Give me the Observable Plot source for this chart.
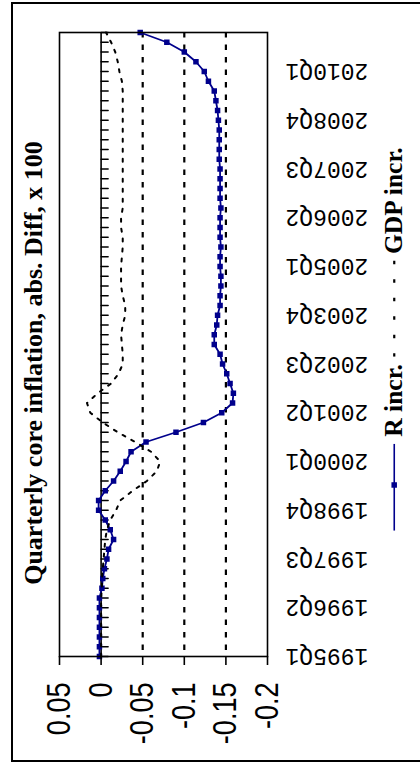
<!DOCTYPE html>
<html>
<head>
<meta charset="utf-8">
<script src="https://cdn.jsdelivr.net/npm/d3@7"></script>
<script src="https://cdn.jsdelivr.net/npm/@observablehq/plot@0.6"></script>
<style>
html,body{margin:0;padding:0;background:#fff;}
#wrap{position:relative;width:420px;height:763px;overflow:hidden;background:#fff;color:#000;}
#border{position:absolute;left:11.3px;top:2.3px;width:420px;height:759.5px;box-sizing:border-box;border:2px solid #000;}
#chart{position:absolute;left:0;top:0;}
#title{position:absolute;left:34px;top:363px;transform:translate(-50%,-50%) rotate(-90deg);white-space:nowrap;font:bold 26px/1 "Liberation Serif","Times New Roman",serif;}
#legend{position:absolute;left:394px;top:338.5px;transform:translate(-50%,-50%) rotate(-90deg);display:flex;align-items:center;white-space:nowrap;font:bold 25.5px/1 "Liberation Serif","Times New Roman",serif;}
#legend svg{display:block;}
</style>
</head>
<body>
<div id="wrap">
  <div id="border"></div>
  <div id="chart"></div>
  <div id="title"></div>
  <div id="legend"></div>
</div>
<script>
const titleText = "Quarterly core inflation, abs. Diff, x 100";
const seriesNames = ["R incr.", "GDP incr."];

const quarters = [
  "1995Q1","1995Q2","1995Q3","1995Q4",
  "1996Q1","1996Q2","1996Q3","1996Q4",
  "1997Q1","1997Q2","1997Q3","1997Q4",
  "1998Q1","1998Q2","1998Q3","1998Q4",
  "1999Q1","1999Q2","1999Q3","1999Q4",
  "2000Q1","2000Q2","2000Q3","2000Q4",
  "2001Q1","2001Q2","2001Q3","2001Q4",
  "2002Q1","2002Q2","2002Q3","2002Q4",
  "2003Q1","2003Q2","2003Q3","2003Q4",
  "2004Q1","2004Q2","2004Q3","2004Q4",
  "2005Q1","2005Q2","2005Q3","2005Q4",
  "2006Q1","2006Q2","2006Q3","2006Q4",
  "2007Q1","2007Q2","2007Q3","2007Q4",
  "2008Q1","2008Q2","2008Q3","2008Q4",
  "2009Q1","2009Q2","2009Q3","2009Q4",
  "2010Q1","2010Q2","2010Q3","2010Q4",
  "2011Q1"
];

const labelQuarters = ["1995Q1","1996Q2","1997Q3","1998Q4","2000Q1","2001Q2","2002Q3","2003Q4","2005Q1","2006Q2","2007Q3","2008Q4","2010Q1"];

// R incr. (blue, square markers)
const rIncr = [
  0.002, 0.002, 0.002, 0.002, 0.002, 0.002, 0.002, -0.001,
  -0.002, -0.004, -0.007, -0.009, -0.015, -0.011, -0.005, 0.003,
  0.003, -0.005, -0.015, -0.023, -0.030, -0.036, -0.054, -0.090,
  -0.123, -0.145, -0.158, -0.159, -0.155, -0.151, -0.146, -0.143,
  -0.136, -0.136, -0.139, -0.140, -0.143, -0.143, -0.144, -0.144,
  -0.143, -0.143, -0.144, -0.143, -0.143, -0.143, -0.144, -0.143,
  -0.143, -0.143, -0.143, -0.142, -0.142, -0.142, -0.142, -0.141,
  -0.140, -0.138, -0.136, -0.129, -0.124, -0.114, -0.100, -0.079,
  -0.047
];

// GDP incr. (black dotted)
const gdpIncr = [
  0.000, 0.000, 0.000, 0.000, 0.000, 0.000, 0.000, -0.001,
  -0.001, -0.002, -0.003, -0.004, -0.005, -0.007, -0.011, -0.018,
  -0.023, -0.038, -0.055, -0.067, -0.071, -0.060, -0.041, -0.020,
  -0.002, 0.013, 0.017, 0.004, -0.012, -0.021, -0.026, -0.026,
  -0.025, -0.024, -0.026, -0.029, -0.029, -0.026, -0.024, -0.024,
  -0.024, -0.025, -0.026, -0.026, -0.024, -0.024, -0.026, -0.026,
  -0.026, -0.026, -0.026, -0.026, -0.026, -0.026, -0.026, -0.026,
  -0.026, -0.026, -0.026, -0.025, -0.022, -0.020, -0.017, -0.012,
  -0.006
];

const valueTicks = [0.05, 0, -0.05, -0.1, -0.15, -0.2];
const gridValues = [-0.05, -0.1, -0.15];

const navy = "#00008c";
const data = quarters.map((q, i) => ({q, r: rIncr[i], g: gdpIncr[i]}));
const tickShape = {draw(ctx, l) { ctx.moveTo(0, 0); ctx.lineTo(0, -l); }};

const chart = Plot.plot({
  width: 420,
  height: 763,
  marginLeft: 59,
  marginRight: 153,
  marginTop: 32,
  marginBottom: 107,
  style: {background: "transparent", color: "#000", overflow: "visible"},
  x: {domain: [0.05, -0.2]},
  y: {type: "point", domain: quarters, reverse: true, padding: 0},
  marks: [
    Plot.ruleX(gridValues, {stroke: "#000", strokeWidth: 2.2, strokeDasharray: "5.5,7"}),
    Plot.ruleX([0], {stroke: "#000", strokeWidth: 1.6}),
    Plot.vector(quarters, {x: () => 0, y: d => d, rotate: 90, length: 7, anchor: "start", shape: tickShape, stroke: "#000", strokeWidth: 1.5}),
    Plot.line(data, {x: "r", y: "q", stroke: navy, strokeWidth: 1.8}),
    Plot.dot(data, {x: "r", y: "q", symbol: "square", fill: navy, r: 3.1}),
    Plot.line(data, {x: "g", y: "q", stroke: "#000", strokeWidth: 2, strokeDasharray: "3,7"}),
    Plot.frame({stroke: "#000", strokeWidth: 1.6}),
    Plot.axisX({
      ticks: valueTicks, tickFormat: d => String(d), anchor: "bottom",
      tickSize: 9, tickPadding: 17, tickRotate: -90, strokeWidth: 1.6,
      fontSize: 33, fontFamily: "'Liberation Sans',Arial,sans-serif",
      label: null
    }),
    Plot.axisY({
      ticks: labelQuarters, anchor: "right", tickSize: 0, tickPadding: 18,
      tickRotate: 180, textAnchor: "end", lineAnchor: "middle",
      fontSize: 23, fontFamily: "'Liberation Mono','DejaVu Sans Mono',monospace",
      label: null
    })
  ]
});
document.getElementById("chart").appendChild(chart);

// narrow the value labels along their reading direction (Arial Narrow look)
d3.select(chart).selectAll('g[aria-label="x-axis tick label"] text')
  .attr("transform", function() { return (this.getAttribute("transform") || "") + " scale(0.82,1)"; });

document.getElementById("title").textContent = titleText;

const legend = document.getElementById("legend");
legend.innerHTML =
  `<svg width="87" height="12"><line x1="0" x2="87" y1="6" y2="6" stroke="${navy}" stroke-width="1.6"/><rect x="43" y="3.2" width="5.5" height="5.5" fill="${navy}"/></svg>` +
  `<span style="margin:0 7px">${seriesNames[0]}</span>` +
  `<svg width="100" height="12"><line x1="0" x2="100" y1="6" y2="6" stroke="#000" stroke-width="2.2" stroke-dasharray="3.5,15"/></svg>` +
  `<span style="margin-left:3px">${seriesNames[1]}</span>`;
</script>
</body>
</html>
